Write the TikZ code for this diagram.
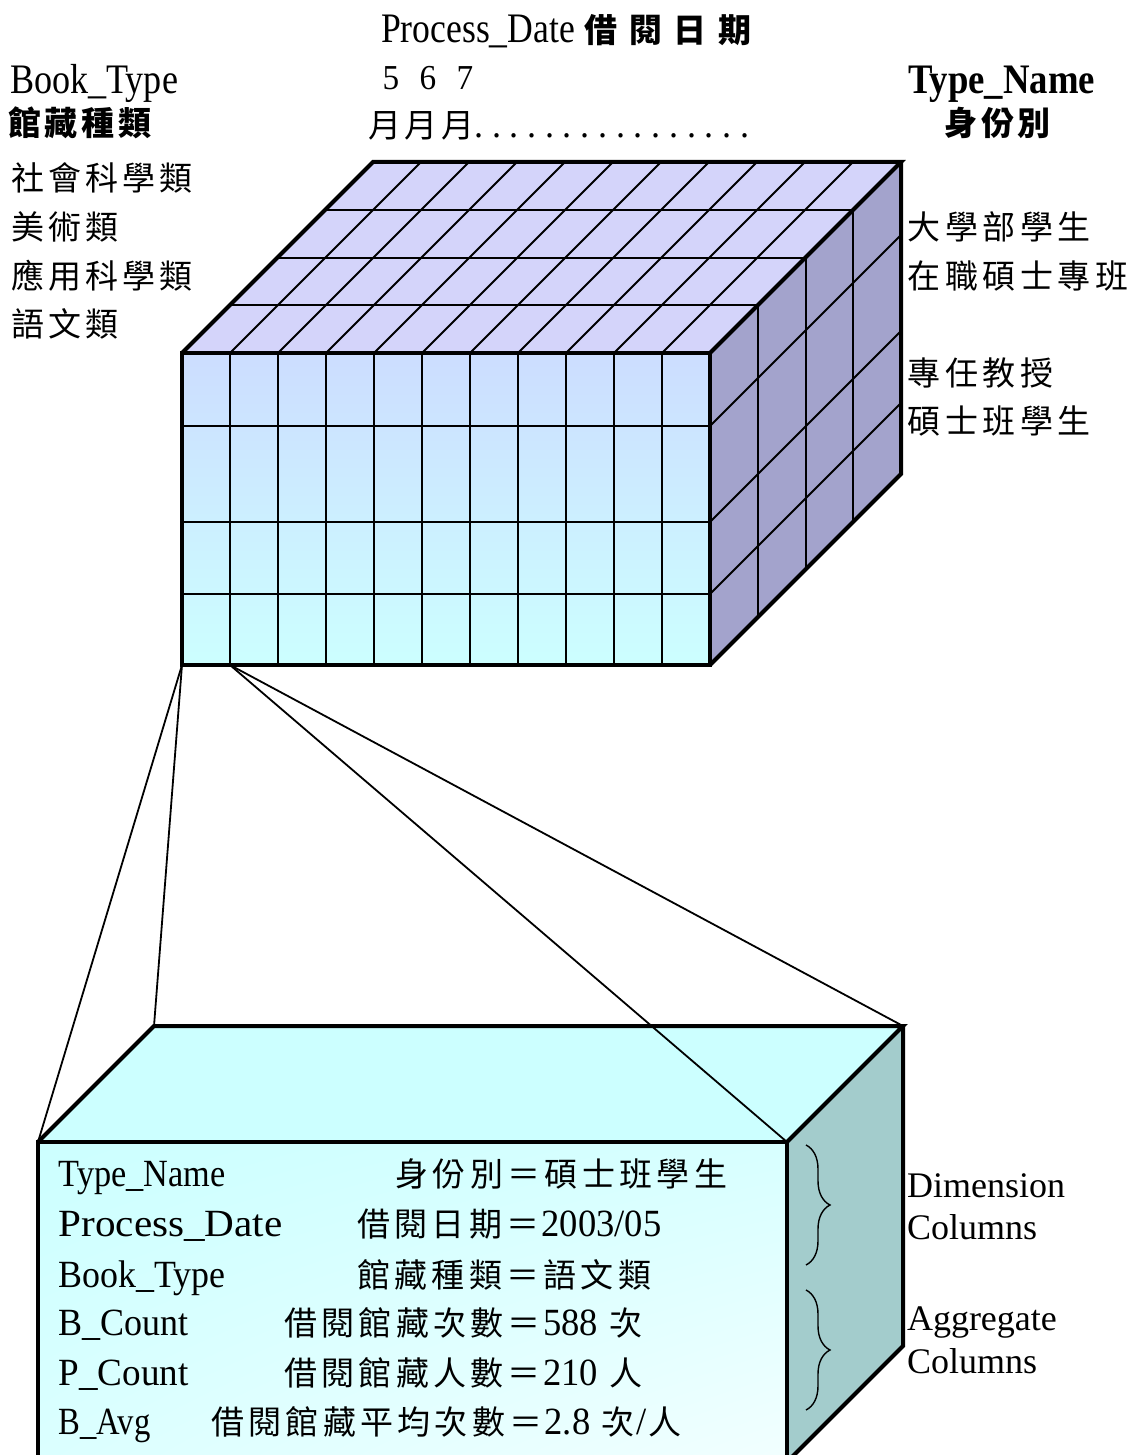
\documentclass[tikz,border=0pt]{standalone}
\usepackage{fontspec}
\usepackage{graphicx}
\usetikzlibrary{decorations.pathreplacing,shadings}
\setmainfont{Liberation Serif}
\newfontfamily\latm[FakeStretch=0.95]{Liberation Serif}
\newfontfamily\cjk{Noto Sans CJK TC}
\definecolor{topc}{RGB}{212,212,250}
\definecolor{rightc}{RGB}{163,163,204}
\definecolor{frontA}{RGB}{204,221,255}
\definecolor{frontB}{RGB}{204,255,255}
\definecolor{ltopc}{RGB}{204,255,255}
\definecolor{lrightc}{RGB}{163,204,204}
\definecolor{lfrontB}{RGB}{242,255,255}
\newlength\spw
\def\spreadend{spreadend-marker}
\def\spreadloop#1{\ifx\spreadend#1\else\makebox[\spw]{#1}\expandafter\spreadloop\fi}
\newcommand\spread[2]{\setlength\spw{#1}\spreadloop#2\spreadend}
\newcommand\cjkn{\cjk\fontsize{33}{33}\selectfont}
\newcommand\cjkbf{\cjk\bfseries\fontsize{33}{33}\selectfont}
\newcommand\boxlat{\fontsize{38.5}{38.5}\selectfont}
\newcommand\boxnum{\latm\fontsize{38.5}{38.5}\selectfont}
\newcommand\toplat{\fontsize{42}{42}\selectfont}
% Latin label squeezed or stretched to a given width
\newcommand\fitw[2]{\resizebox{#1}{\height}{#2}}
\begin{document}
\begin{tikzpicture}[x=1pt,y=-1pt,
  grid/.style={line width=2pt},
  outl/.style={line width=4pt,line join=miter},
  conn/.style={line width=1.8pt},
  lbl/.style={anchor=base west,inner sep=0pt,outer sep=0pt},
  bracestyle/.style={line width=1.4pt,decorate,decoration={brace,amplitude=24pt,aspect=0.5}}]
\useasboundingbox (0,0) rectangle (1140,1455);
\clip (0,0) rectangle (1140,1455);
% ---------- upper cube ----------
\coordinate (FTL) at (182,353);
\coordinate (FTR) at (710,353);
\coordinate (FBL) at (182,665);
\coordinate (FBR) at (710,665);
\coordinate (BTL) at (373,162);
\coordinate (BTR) at (901,162);
\coordinate (BBR) at (901,474);
\coordinate (C1) at (230,665);
\fill[topc] (FTL) -- (BTL) -- (BTR) -- (FTR) -- cycle;
\fill[rightc] (FTR) -- (BTR) -- (BBR) -- (FBR) -- cycle;
\shade[top color=frontA,bottom color=frontB] (FTL) rectangle (FBR);
% front grid
\foreach \i in {1,...,10}{\draw[grid] ({182+48*\i},353) -- ({182+48*\i},665);}
\foreach \y in {426,522,594}{\draw[grid] (182,\y) -- (710,\y);}
% top grid
\foreach \i in {1,...,10}{\draw[grid] ({182+48*\i},353) -- ({373+48*\i},162);}
\foreach \k in {1,2,3}{\draw[grid] ({182+47.75*\k},{353-47.75*\k}) -- ({710+47.75*\k},{353-47.75*\k});}
% right grid
\foreach \k in {1,2,3}{\draw[grid] ({710+47.75*\k},{353-47.75*\k}) -- ({710+47.75*\k},{665-47.75*\k});}
\foreach \y in {426,522,594}{\draw[grid] (710,\y) -- (901,{\y-191});}
% outlines
\draw[outl] (FTL) rectangle (FBR);
\draw[outl] (FTL) -- (BTL) -- (BTR) -- (FTR);
\draw[outl] (BTR) -- (BBR) -- (FBR);
% ---------- lower box ----------
\coordinate (LFTL) at (38,1142);
\coordinate (LFTR) at (787,1142);
\coordinate (LFBL) at (38,1462);
\coordinate (LFBR) at (787,1462);
\coordinate (LBTL) at (154,1026);
\coordinate (LBTR) at (903,1026);
\coordinate (LBBR) at (903,1346);
\fill[ltopc] (LFTL) -- (LBTL) -- (LBTR) -- (LFTR) -- cycle;
\fill[lrightc] (LFTR) -- (LBTR) -- (LBBR) -- (LFBR) -- cycle;
\shade[upper left=ltopc,upper right=ltopc!70!lfrontB,lower left=ltopc!60!lfrontB,lower right=lfrontB] (LFTL) rectangle (LFBR);
\draw[outl] (LFTL) rectangle (LFBR);
\draw[outl] (LFTL) -- (LBTL) -- (LBTR) -- (LFTR);
\draw[outl] (LBTR) -- (LBBR) -- (LFBR);
% ---------- connectors ----------
\draw[conn] (FBL) -- (LFTL);
\draw[conn] (FBL) -- (LBTL);
\draw[conn] (C1) -- (LFTR);
\draw[conn] (C1) -- (LBTR);
% ---------- top labels ----------
\node[lbl] (title) at (381,42.7) {\toplat\fitw{194pt}{Process\_Date}};
\node[lbl] (titlecjk) at (579,42.7) {\cjkbf\spread{44.5pt}{借閱日期}};
\node[lbl] (booktype) at (10,93.3) {\toplat\fitw{168pt}{Book\_Type}};
\node[lbl] (months) at (372.5,90) {\latm\fontsize{35}{35}\selectfont\spread{37pt}{567}};
\node[lbl] (typename) at (908,93.3) {\toplat\bfseries\fitw{187pt}{Type\_Name}};
\node[lbl] (bookcjk) at (6,136) {\cjkbf\spread{37pt}{館藏種類}};
\node[lbl] (yue) at (366.5,138) {\cjkn\spread{36.5pt}{月月月}};
\node[lbl] (dots) at (470,138) {\latm\fontsize{38}{38}\selectfont\spread{17.73pt}{................}};
\node[lbl] (typecjk) at (943,136) {\cjkbf\spread{36.5pt}{身份別}};
% left list
\node[lbl] (l1) at (9.4,191) {\cjkn\spread{37pt}{社會科學類}};
\node[lbl] (l2) at (9.4,240) {\cjkn\spread{37pt}{美術類}};
\node[lbl] (l3) at (9.4,288) {\cjkn\spread{37pt}{應用科學類}};
\node[lbl] (l4) at (9.4,336) {\cjkn\spread{37pt}{語文類}};
% right list
\node[lbl] (r1) at (905.5,240) {\cjkn\spread{37.5pt}{大學部學生}};
\node[lbl] (r2) at (905.5,288) {\cjkn\spread{37.5pt}{在職碩士專班}};
\node[lbl] (r3) at (905.5,385) {\cjkn\spread{37.5pt}{專任教授}};
\node[lbl] (r4) at (905.5,433) {\cjkn\spread{37.5pt}{碩士班學生}};
% ---------- box contents ----------
\node[lbl] (t1a) at (58.6,1186) {\boxlat\fitw{167pt}{Type\_Name}};
\node[lbl] (t1b) at (393.5,1186) {\cjkn\spread{37.3pt}{身份別＝碩士班學生}};
\node[lbl] (t2a) at (58.6,1236) {\boxlat\fitw{224pt}{Process\_Date}};
\node[lbl] (t2b) at (355,1236) {\cjkn\spread{37.3pt}{借閱日期＝}\boxnum 2003/05};
\node[lbl] (t3a) at (58.6,1287) {\boxlat\fitw{167pt}{Book\_Type}};
\node[lbl] (t3b) at (355,1287) {\cjkn\spread{37.3pt}{館藏種類＝語文類}};
\node[lbl] (t4a) at (58.6,1335) {\boxlat\fitw{130pt}{B\_Count}};
\node[lbl] (t4b) at (282,1335) {\cjkn\spread{37.3pt}{借閱館藏次數＝}\boxnum 588\ \cjkn\spread{37.3pt}{次}};
\node[lbl] (t5a) at (58.6,1385) {\boxlat\fitw{130pt}{P\_Count}};
\node[lbl] (t5b) at (282,1385) {\cjkn\spread{37.3pt}{借閱館藏人數＝}\boxnum 210\ \cjkn\spread{37.3pt}{人}};
\node[lbl] (t6a) at (58.6,1434) {\boxlat\fitw{92pt}{B\_Avg}};
\node[lbl] (t6b) at (209,1434) {\cjkn\spread{37.3pt}{借閱館藏平均次數＝}\boxnum 2.8\ \cjkn\spread{37.3pt}{次}\boxnum/\cjkn\spread{35pt}{人}};
% ---------- braces ----------
\coordinate (b1a) at (806,1145);
\coordinate (b1b) at (806,1265);
\coordinate (b2a) at (806,1290);
\coordinate (b2b) at (806,1410);
\draw[bracestyle] (b1a) -- (b1b);
\draw[bracestyle] (b2a) -- (b2b);
\node[lbl] (dim1) at (907,1197) {\fontsize{36}{36}\selectfont Dimension};
\node[lbl] (dim2) at (907,1239) {\fontsize{36}{36}\selectfont Columns};
\node[lbl] (agg1) at (907,1330) {\fontsize{36}{36}\selectfont Aggregate};
\node[lbl] (agg2) at (907,1373) {\fontsize{36}{36}\selectfont Columns};
\end{tikzpicture}
\end{document}
